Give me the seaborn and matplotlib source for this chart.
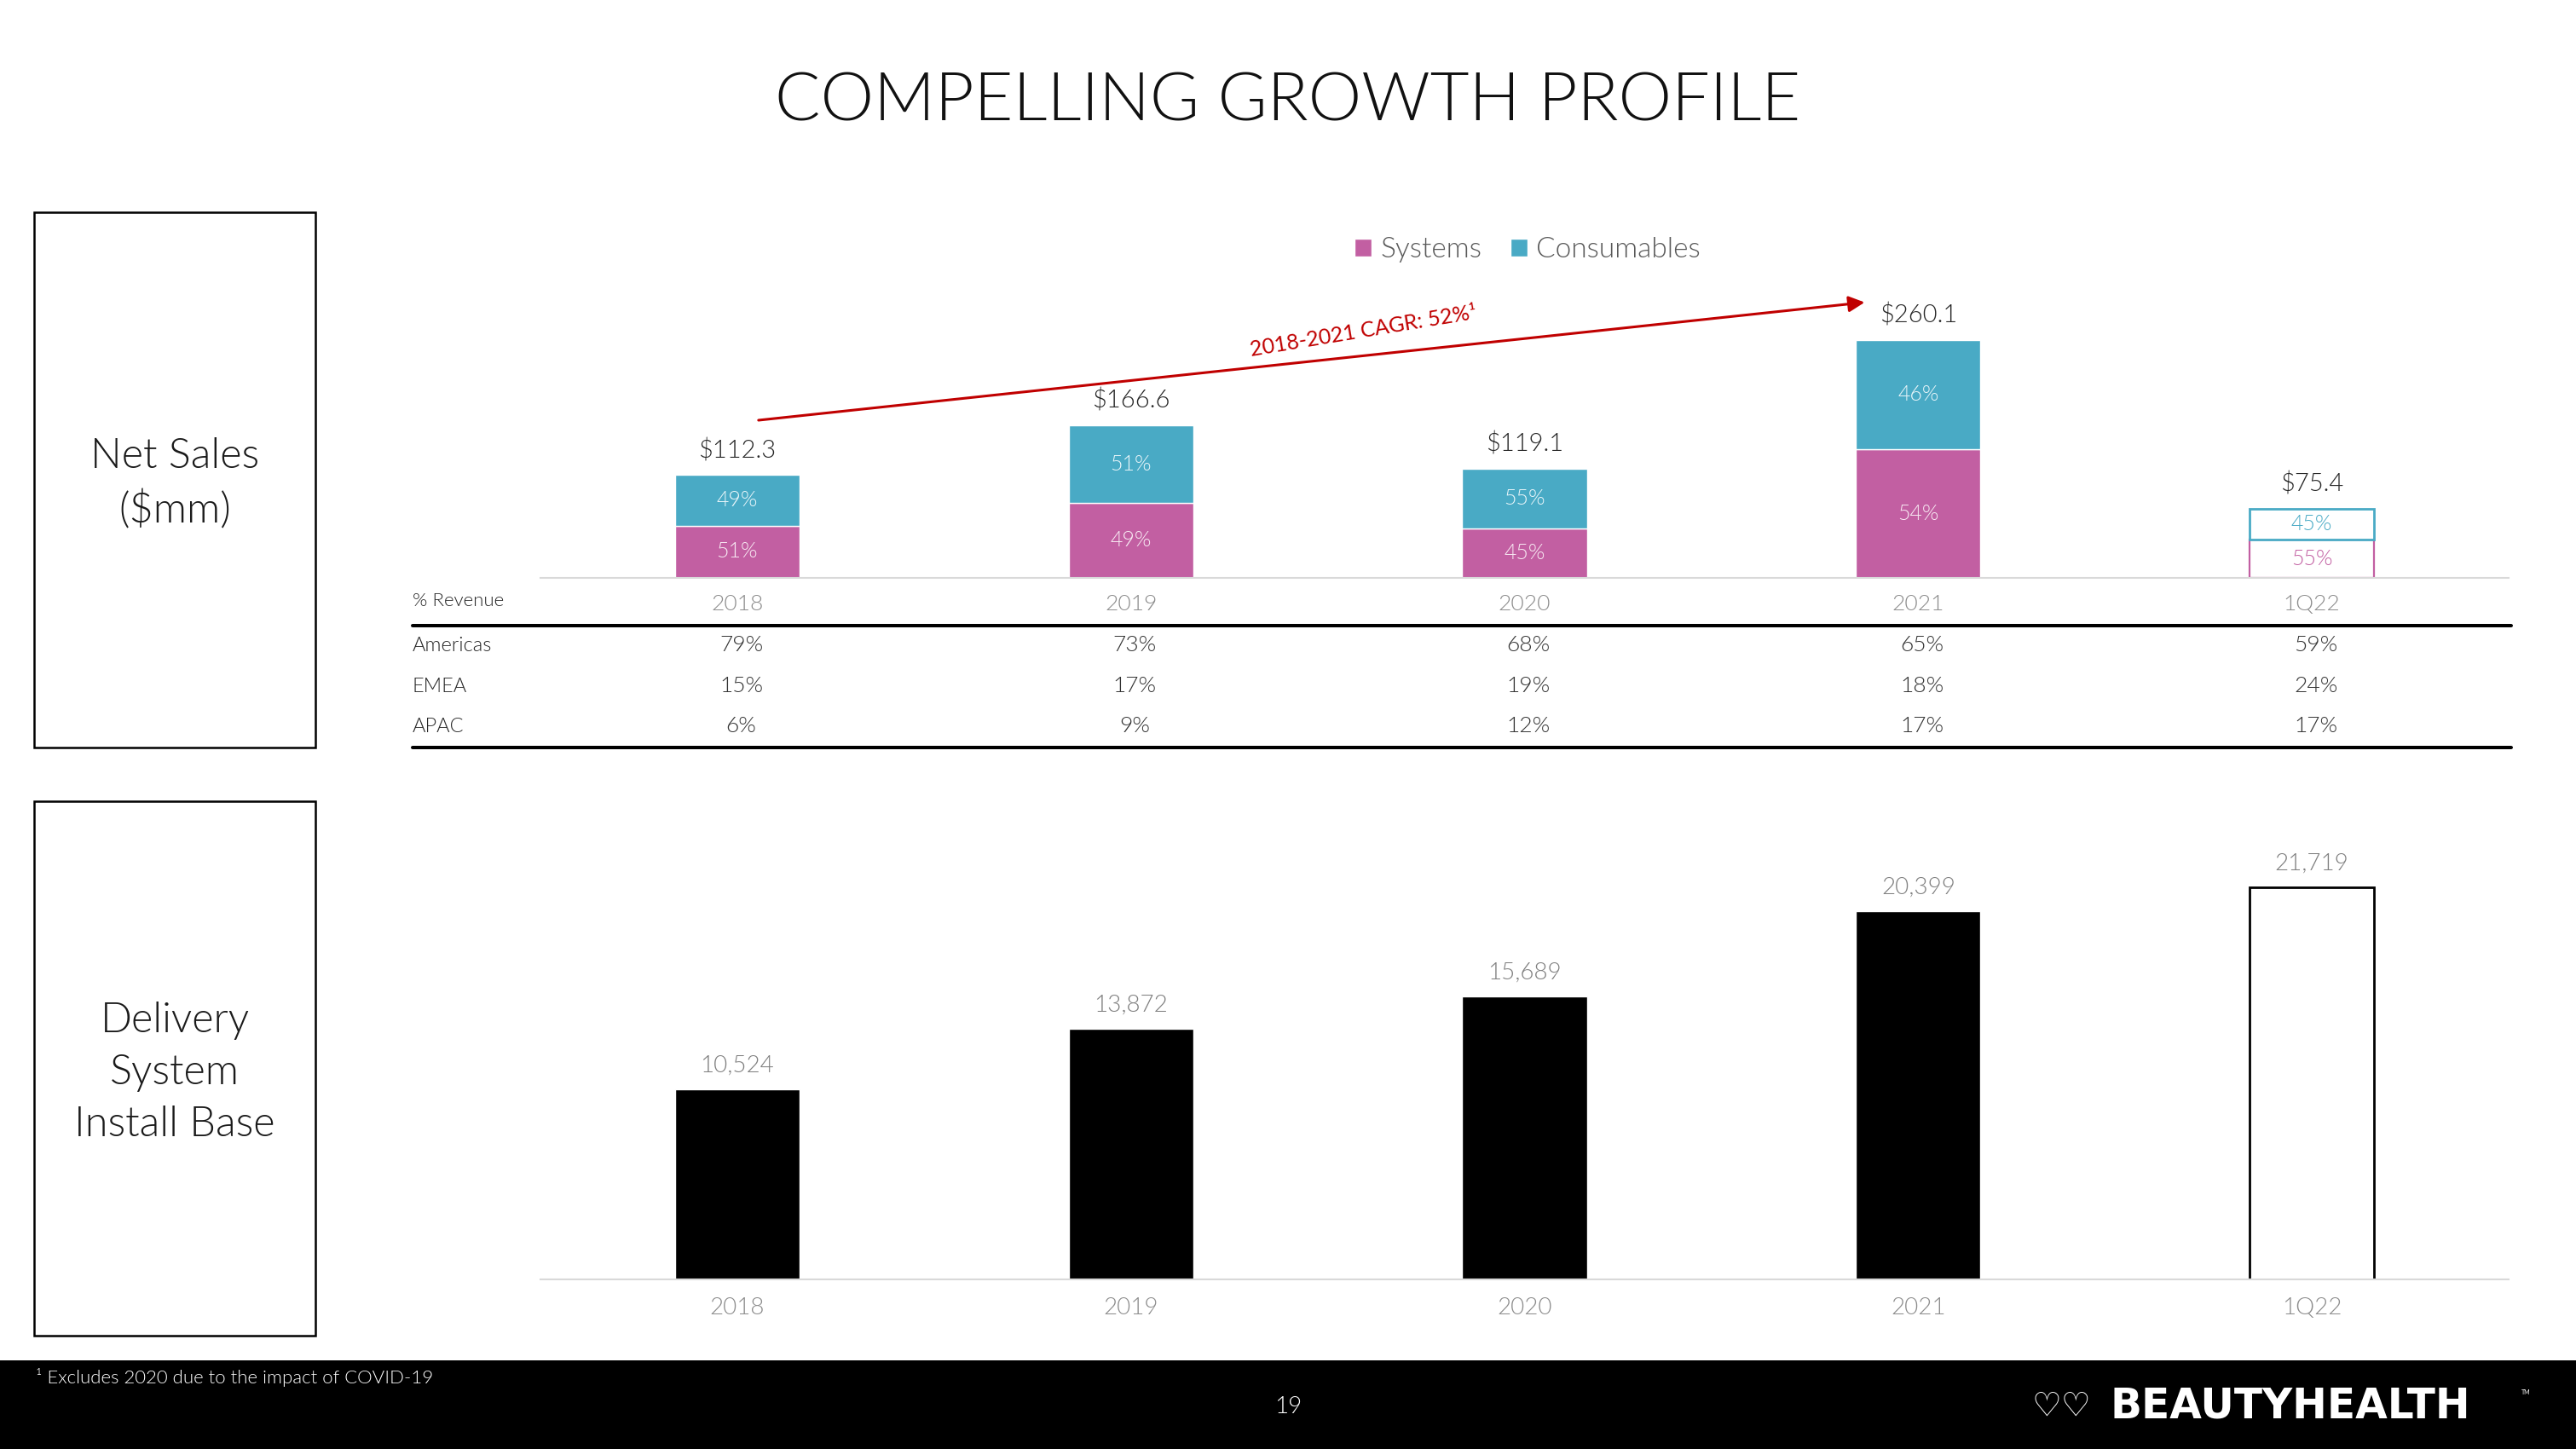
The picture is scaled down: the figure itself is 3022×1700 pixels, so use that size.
import numpy as np
import pandas as pd
import matplotlib
matplotlib.use("Agg")
import matplotlib.pyplot as plt
import matplotlib.transforms as mtransforms
import seaborn as sns
from matplotlib.patches import Rectangle, Patch
from matplotlib.lines import Line2D

# --- DATA ---
periods = ["2018", "2019", "2020", "2021", "1Q22"]
net_sales = [112.3, 166.6, 119.1, 260.1, 75.4]
systems_pct = [51, 49, 45, 54, 55]
consumables_pct = [49, 51, 55, 46, 45]
region_names = ["Americas", "EMEA", "APAC"]
americas_pct = [79, 73, 68, 65, 59]
emea_pct = [15, 17, 19, 18, 24]
apac_pct = [6, 9, 12, 17, 17]
install_base = [10524, 13872, 15689, 20399, 21719]

MAGENTA = "#C25FA2"
TEAL = "#49AAC5"
RED = "#C00000"
LIGHT = 300
W, H = 3022, 1700

sns.set_theme(style="white")
plt.rcParams["font.family"] = ["Lato", "DejaVu Sans"]

fig = plt.figure(figsize=(W / 100, H / 100), dpi=100)
fig.patch.set_facecolor("white")


def fx(px):
    return px / W


def fy(py):
    return 1 - py / H


# stacked segments
sys_vals = [t * p / 100 for t, p in zip(net_sales, systems_pct)]
con_vals = [t * p / 100 for t, p in zip(net_sales, consumables_pct)]
df_top = pd.DataFrame({"period": periods, "systems": sys_vals, "consumables": con_vals})

# --- TOP CHART: Net Sales ---
ax1 = fig.add_axes([fx(634), fy(678), fx(2943) - fx(634), fy(270) - fy(678)])
sns.barplot(data=df_top, x="period", y="systems", order=periods, color=MAGENTA,
            saturation=1, width=0.317, errorbar=None, ax=ax1)
n_sys = len(ax1.patches)
sns.barplot(data=df_top, x="period", y="consumables", order=periods, color=TEAL,
            saturation=1, width=0.317, errorbar=None, ax=ax1)
for i, p in enumerate(ax1.patches[n_sys:]):
    p.set_y(sys_vals[i])
# last period drawn as outline only
last_sys = ax1.patches[n_sys - 1]
last_con = ax1.patches[-1]
last_sys.set_facecolor("white"); last_sys.set_edgecolor(MAGENTA); last_sys.set_linewidth(1.6)
last_con.set_facecolor("white"); last_con.set_edgecolor(TEAL); last_con.set_linewidth(2.0)

for i in range(len(periods)):
    inner_s = "#F8EAF3" if i < 4 else MAGENTA
    inner_c = "#EAF6FA" if i < 4 else TEAL
    ax1.text(i, sys_vals[i] / 2, f"{systems_pct[i]}%", ha="center", va="center",
             fontsize=18, color=inner_s, fontweight=LIGHT)
    ax1.text(i, sys_vals[i] + con_vals[i] / 2, f"{consumables_pct[i]}%", ha="center",
             va="center", fontsize=18, color=inner_c, fontweight=LIGHT)
    ax1.annotate(f"${net_sales[i]:.1f}", (i, net_sales[i]), xytext=(0, 11),
                 textcoords="offset points", ha="center", va="bottom",
                 fontsize=21, color="#262626", fontweight=LIGHT)

ax1.set_xlim(-0.5, 4.5)
ax1.set_ylim(0, 380)
ax1.set_xlabel("")
ax1.set_ylabel("")
ax1.set_yticks([])
ax1.tick_params(axis="x", length=0, pad=14, labelsize=19, labelcolor="#8C8C8C")
for lab in ax1.get_xticklabels():
    lab.set_fontweight(LIGHT)
for s in ["top", "left", "right"]:
    ax1.spines[s].set_visible(False)
ax1.spines["bottom"].set_color("#D9D9D9")
ax1.spines["bottom"].set_linewidth(1.5)
ax1.patch.set_alpha(0)

# CAGR arrow
ax1.annotate("", xy=(2.864, net_sales[3] + 41), xytext=(0.054, net_sales[0] + 60),
             arrowprops=dict(arrowstyle="-|>", color=RED, lw=2.2, mutation_scale=28,
                             shrinkA=0, shrinkB=0))
ax1.text(1.59, 270, "2018-2021 CAGR: 52%\u00b9", rotation=9.5, ha="center", va="center",
         fontsize=18, color=RED, fontweight="normal", rotation_mode="anchor")

# legend
handles = [Patch(facecolor=MAGENTA, label="Systems"), Patch(facecolor=TEAL, label="Consumables")]
leg = fig.legend(handles=handles, loc="center", bbox_to_anchor=(fx(1792), fy(293)), ncol=2,
                 frameon=False, handlelength=0.6, handleheight=0.6, handletextpad=0.3,
                 columnspacing=1.0, fontsize=24, labelcolor="#595959")
for t in leg.get_texts():
    t.set_fontweight(LIGHT)

# --- REGION TABLE ---
trans = mtransforms.blended_transform_factory(ax1.transData, fig.transFigure)
fig.text(fx(484), fy(705), "% Revenue", fontsize=16, color="#262626", va="center",
         fontweight=LIGHT)
row_y = [757, 805, 852]
for name, vals, y in zip(region_names, [americas_pct, emea_pct, apac_pct], row_y):
    fig.text(fx(484), fy(y), name, fontsize=17, color="#262626", va="center",
             fontweight=LIGHT)
    for i, v in enumerate(vals):
        ax1.text(i + 0.01, fy(y), f"{v}%", transform=trans, ha="center", va="center",
                 fontsize=19, color="#333333", clip_on=False, fontweight=LIGHT)
for y in [734, 877]:
    fig.add_artist(Line2D([fx(484), fx(2946)], [fy(y), fy(y)], color="black", lw=2.9,
                          transform=fig.transFigure))

# --- BOTTOM CHART: Install Base ---
ax2 = fig.add_axes([fx(634), fy(1501), fx(2943) - fx(634), fy(963) - fy(1501)])
df_bot = pd.DataFrame({"period": periods, "units": install_base})
sns.barplot(data=df_bot, x="period", y="units", order=periods, color="black",
            saturation=1, width=0.317, errorbar=None, ax=ax2)
lp = ax2.patches[-1]
lp.set_facecolor("white"); lp.set_edgecolor("black"); lp.set_linewidth(2.0)
for i, v in enumerate(install_base):
    ax2.annotate(f"{v:,}", (i, v), xytext=(0, 11), textcoords="offset points",
                 ha="center", va="bottom", fontsize=20, color="#7F7F7F",
                 fontweight=LIGHT)
ax2.set_xlim(-0.5, 4.5)
ax2.set_ylim(0, 25410)
ax2.set_xlabel("")
ax2.set_ylabel("")
ax2.set_yticks([])
ax2.tick_params(axis="x", length=0, pad=15, labelsize=20, labelcolor="#8C8C8C")
for lab in ax2.get_xticklabels():
    lab.set_fontweight(LIGHT)
for s in ["top", "left", "right"]:
    ax2.spines[s].set_visible(False)
ax2.spines["bottom"].set_color("#D9D9D9")
ax2.spines["bottom"].set_linewidth(1.5)
ax2.patch.set_alpha(0)

# --- LEFT BOXES ---
for (y0, y1), label in [((249, 877), "Net Sales\n($mm)"),
                         ((940, 1567), "Delivery\nSystem\nInstall Base")]:
    fig.add_artist(Rectangle((fx(40), fy(y1)), fx(370) - fx(40), fy(y0) - fy(y1),
                             transform=fig.transFigure, fill=False, ec="black", lw=1.8))
    fig.text(fx(205), fy((y0 + y1) / 2 + 5), label, ha="center", va="center", fontsize=35,
             color="#1A1A1A", fontweight=LIGHT, linespacing=1.45)

# --- TITLE ---
fig.text(0.5, fy(120), "COMPELLING GROWTH PROFILE", ha="center", va="center",
         fontsize=57, color="#111111", fontweight=LIGHT)

# --- FOOTER ---
fig.add_artist(Rectangle((0, 0), 1, fy(1596), transform=fig.transFigure,
                         facecolor="black", edgecolor="none"))
fig.text(fx(42), fy(1616), "\u00b9 Excludes 2020 due to the impact of COVID-19",
         fontsize=16, color="white", va="center", fontweight=LIGHT)
fig.text(fx(1511), fy(1650), "19", fontsize=20, color="white", ha="center", va="center",
         fontweight=LIGHT)
fig.text(fx(2418), fy(1650), "\u2661\u2661", fontsize=28, color="white", ha="center",
         va="center", family=["DejaVu Sans"])
fig.text(fx(2476), fy(1650), "BEAUTYHEALTH", fontsize=35, color="white", ha="left",
         va="center", fontweight="bold", family=["DejaVu Sans"])
fig.text(fx(2958), fy(1633), "TM", fontsize=5, color="white", ha="left", va="center")

fig.savefig("out.png", dpi=100, facecolor="white")
